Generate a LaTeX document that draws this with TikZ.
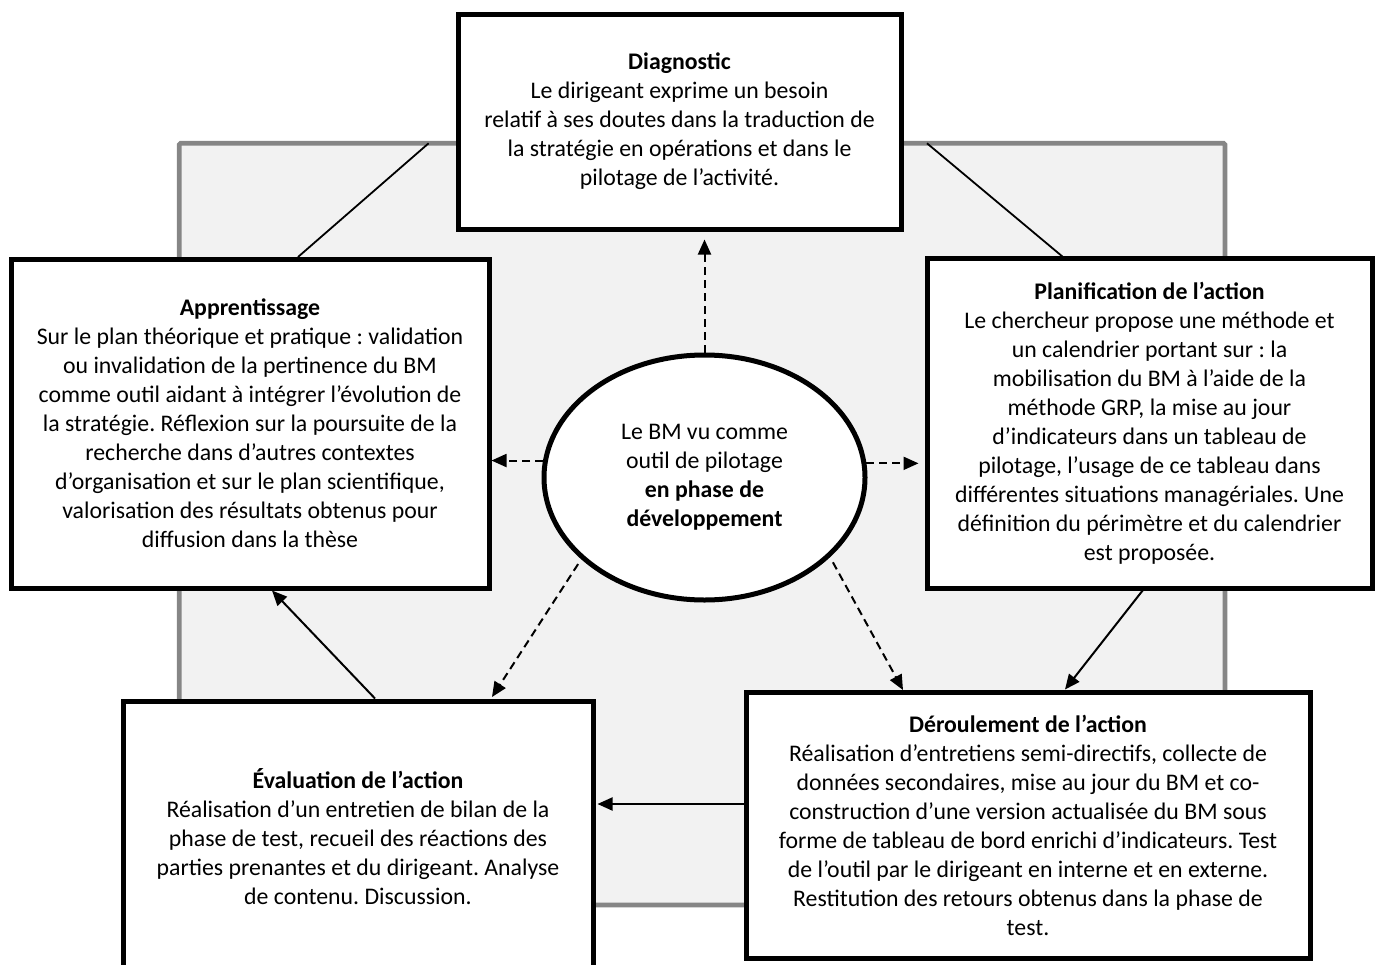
\documentclass[tikz,border=0pt]{standalone}
\usepackage{fontspec}
\setmainfont{Carlito}
\frenchspacing
\usetikzlibrary{arrows.meta,shapes.geometric,calc}
\definecolor{bggray}{HTML}{F2F2F2}
\definecolor{edgegray}{HTML}{868686}
\tikzset{
  stagebox/.style={draw=black, line width=5pt, fill=white, rectangle, align=center,
    inner sep=0pt, font=\fontsize{23.8pt}{29pt}\selectfont},
  centre/.style={draw=black, line width=5pt, fill=white, ellipse, align=center,
    inner sep=0pt, font=\fontsize{23.8pt}{29pt}\selectfont},
  dasharrow/.style={line width=2pt, dash pattern=on 8pt off 5pt,
    -{Triangle[length=15pt,width=13pt]}},
  solidarrow/.style={line width=2pt, -{Triangle[length=15pt,width=13pt]}},
  plainline/.style={line width=1.8pt},
}
\begin{document}
\begin{tikzpicture}[x=1pt,y=-1pt]
\useasboundingbox (0,0) rectangle (1379,964);
% background frame
\draw[draw=edgegray, line width=4.8pt, fill=bggray, rounded corners=1.5pt] (179.3,143.3) rectangle (1225,905);
% connecting lines (behind boxes)
\coordinate (gtl) at (428.6,143.3);
\coordinate (gtr) at (927,143.3);
\coordinate (apptop) at (298,257);
\coordinate (plantop) at (1063,257);
\draw[plainline] (gtl) -- (apptop);
\draw[plainline] (gtr) -- (plantop);

% boxes
\node[stagebox, minimum width=443pt, minimum height=215pt] (diag) at (679.5,121.5)
 {\textbf{Diagnostic}\\
  Le dirigeant exprime un besoin\\
  relatif à ses doutes dans la traduction de\\
  la stratégie en opérations et dans le\\
  pilotage de l’activité.};

\node[stagebox, minimum width=478pt, minimum height=329pt] (app) at (250,423.5)
 {\textbf{Apprentissage}\\
  Sur le plan théorique et pratique : validation\\
  ou invalidation de la pertinence du BM\\
  comme outil aidant à intégrer l’évolution de\\
  la stratégie. Réflexion sur la poursuite de la\\
  recherche dans d’autres contextes\\
  d’organisation et sur le plan scientifique,\\
  valorisation des résultats obtenus pour\\
  diffusion dans la thèse};

\node[stagebox, minimum width=445pt, minimum height=330pt] (plan) at (1149.5,423)
 {\textbf{Planification de l’action}\\
  Le chercheur propose une méthode et\\
  un calendrier portant sur : la\\
  mobilisation du BM à l’aide de la\\
  méthode GRP, la mise au jour\\
  d’indicateurs dans un tableau de\\
  pilotage, l’usage de ce tableau dans\\
  différentes situations managériales. Une\\
  définition du périmètre et du calendrier\\
  est proposée.};

\node[stagebox, minimum width=564pt, minimum height=266pt] (der) at (1028,825)
 {\textbf{Déroulement de l’action}\\
  Réalisation d’entretiens semi-directifs, collecte de\\
  données secondaires, mise au jour du BM et co-\\
  construction d’une version actualisée du BM sous\\
  forme de tableau de bord enrichi d’indicateurs. Test\\
  de l’outil par le dirigeant en interne et en externe.\\
  Restitution des retours obtenus dans la phase de\\
  test.};

\node[stagebox, minimum width=470pt, minimum height=271pt] (eval) at (358,836.5)
 {\textbf{Évaluation de l’action}\\
  Réalisation d’un entretien de bilan de la\\
  phase de test, recueil des réactions des\\
  parties prenantes et du dirigeant. Analyse\\
  de contenu. Discussion.};

\node[centre, minimum width=321pt, minimum height=245pt] (ell) at (704.5,477.5)
 {Le BM vu comme\\
  outil de pilotage\\
  \textbf{en phase de}\\
  \textbf{développement}};

% dashed arrows from the centre
\draw[dasharrow, shorten >=8pt] (ell.north) -- (diag.south -| ell.north);
\draw[dasharrow] (ell.174.5) -- (ell.174.5 -| app.east);
\draw[dasharrow, shorten >=6pt] (ell.5.5) -- (ell.5.5 -| plan.west);
\coordinate (evin) at (492,697);
\coordinate (derin) at (903,690);
\draw[dasharrow] ($(ell.214)+(-4,4)$) -- (evin);
\draw[dasharrow] ($(ell.-33.5)+(4,4)$) -- (derin);

% solid cycle arrows
\coordinate (planout) at (1143,590);
\coordinate (derin2) at (1065,689.5);
\draw[solidarrow] (planout) -- (derin2);
\draw[solidarrow, shorten >=2pt] (der.west |- 0,804) -- (eval.east |- 0,804);
\coordinate (evout) at (375,698.5);
\coordinate (appin) at (272,590.5);
\draw[solidarrow] (evout) -- (appin);
\end{tikzpicture}
\end{document}
